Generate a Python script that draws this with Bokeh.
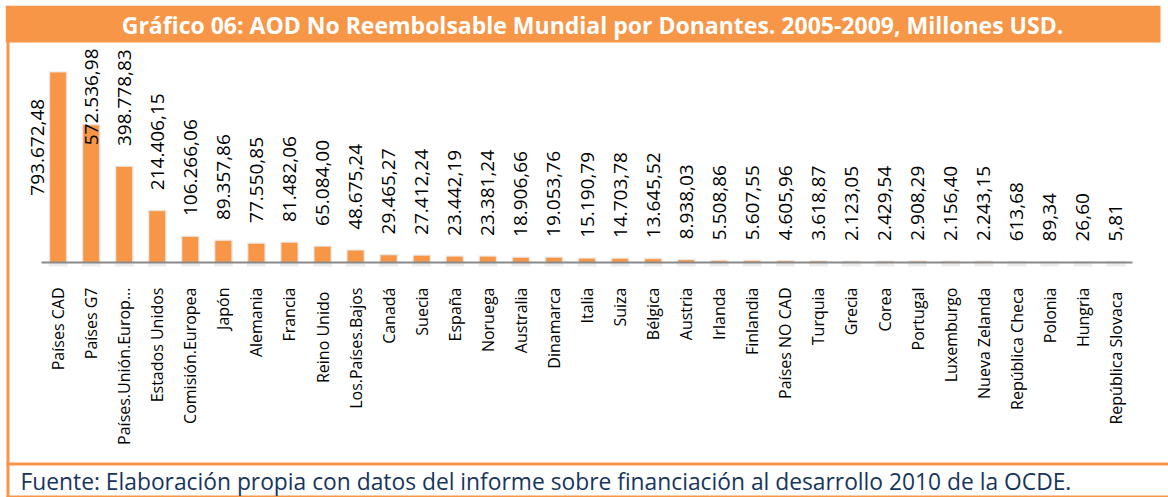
import math
from bokeh.plotting import figure
from bokeh.models import Range1d, FactorRange
from bokeh.embed import file_html
from bokeh.resources import INLINE
from bokeh.core.properties import value

# ---------------- data ----------------
title_text = "Gráfico 06: AOD No Reembolsable Mundial por Donantes. 2005-2009, Millones USD."
source_text = "Fuente: Elaboración propia con datos del informe sobre financiación al desarrollo 2010 de la OCDE."

donors = ["Países CAD", "Países G7", "Países.Unión.Europ...", "Estados Unidos",
          "Comisión.Europea", "Japón", "Alemania", "Francia", "Reino  Unido",
          "Los.Países.Bajos", "Canadá", "Suecia", "España", "Noruega", "Australia",
          "Dinamarca", "Italia", "Suiza", "Bélgica", "Austria", "Irlanda", "Finlandia",
          "Países NO CAD", "Turquia", "Grecia", "Corea", "Portugal", "Luxemburgo",
          "Nueva Zelanda", "República Checa", "Polonia", "Hungria", "República  Slovaca"]

aod = [793672.48, 572536.98, 398778.83, 214406.15, 106266.06, 89357.86, 77550.85,
       81482.06, 65084.00, 48675.24, 29465.27, 27412.24, 23442.19, 23381.24, 18906.66,
       19053.76, 15190.79, 14703.78, 13645.52, 8938.03, 5508.86, 5607.55, 4605.96,
       3618.87, 2123.05, 2429.54, 2908.29, 2156.40, 2243.15, 613.68, 89.34, 26.60, 5.81]


def es_fmt(v):
    s = f"{v:,.2f}"
    return s.replace(",", "X").replace(".", ",").replace("X", ".")


labels = [es_fmt(v) for v in aod]

# ---------------- layout constants (pixels) ----------------
ORANGE = "#F79646"
FONT = "Open Sans"
W, H = 1168, 497
FL, FT = 5, 5                   # frame left / top offset on the canvas
FW, FH = W - FL, H - FT         # frame size
BASE = 262                      # canvas y of the value axis (value 0)
PPX = 4180.0                    # value units per pixel
PAD = 1.09                      # factor padding on each side (in categories)

n = len(donors)
pitch = FW / (n + 2 * PAD)      # pixels per category

x_range = FactorRange(factors=donors, range_padding=PAD,
                      range_padding_units="absolute")
y_range = Range1d(-(FT + FH - BASE) * PPX, (BASE - FT) * PPX)

p = figure(x_range=x_range, y_range=y_range,
           frame_width=FW, frame_height=FH,
           min_border_left=FL, min_border_top=FT,
           min_border_right=0, min_border_bottom=0,
           x_axis_location=None, y_axis_location=None,
           toolbar_location=None, output_backend="svg",
           outline_line_color=None, background_fill_color="white",
           border_fill_color="white")
p.grid.visible = False


def cx(x):
    """canvas pixel x -> synthetic categorical coordinate"""
    return -PAD + (x - FL) / pitch


def cy(y):
    """canvas pixel y -> value coordinate"""
    return (BASE - y) * PPX


# ---- bars (with a soft shadow) ----
shadow_top = [v + 1.5 * PPX for v in aod]
p.vbar(x=donors, top=shadow_top, bottom=-4 * PPX, width=0.57, fill_color="#bfbfbf",
       fill_alpha=0.3, line_color=None)
p.vbar(x=donors, top=aod, bottom=0, width=0.47, fill_color=ORANGE,
       line_color=ORANGE, line_width=0.5)

# ---- category axis line and labels ----
p.segment(x0=[0], x1=[n], y0=[0], y1=[0], line_color="#898989", line_width=2)
p.text(x=donors, y=[-25 * PPX] * n, text=donors, angle=math.pi / 2,
       text_align="right", text_baseline="middle", text_font=value(FONT),
       text_font_size="16px", text_color="#000000")

# ---- value labels ----
GAP = 21
CHAR = 9.8
TOP_LIMIT = cy(48)
nx, ny, nt = [], [], []
kx, ky, kt = [], [], []
mx, my, mt = [], [], []
for i, (d, v, t) in enumerate(zip(donors, aod, labels)):
    if i == 0:
        mx.append(d)
        my.append(v - 123 * PPX)
        mt.append(t)
    elif v + (GAP + len(t) * CHAR) * PPX > TOP_LIMIT + 5 * PPX:
        kx.append(d)
        ky.append(TOP_LIMIT)
        kt.append(t)
    else:
        nx.append(d)
        ny.append(v + GAP * PPX)
        nt.append(t)

common = dict(angle=math.pi / 2, text_baseline="middle", text_font=value(FONT),
              text_font_size="19px", text_color="#000000")
p.text(x=nx, y=ny, text=nt, text_align="left", **common)
p.text(x=kx, y=ky, text=kt, text_align="right", **common)
p.text(x=mx, y=my, text=mt, text_align="left", x_offset=-21, **common)

# ---- frame decorations: title bar, borders, footer ----
deco_left = [cx(5), cx(6), cx(6), cx(6)]
deco_right = [cx(1160), cx(9), cx(W), cx(W)]
deco_top = [cy(5), cy(5), cy(462), cy(495)]
deco_bottom = [cy(42), cy(H), cy(465), cy(H)]
p.quad(left=deco_left, right=deco_right, top=deco_top, bottom=deco_bottom,
       fill_color=ORANGE, line_color=None)

p.text(x=[cx(592)], y=[cy(24)], text=[title_text], text_align="center",
       text_baseline="middle", text_color="white", text_font_style="bold",
       text_font=value(FONT), text_font_size="23px")
p.text(x=[cx(20)], y=[cy(481)], text=[source_text], text_align="left",
       text_baseline="middle", text_color="#17365D",
       text_font=value(FONT), text_font_size="22.8px")

open("out.html", "w").write(file_html(p, INLINE))
